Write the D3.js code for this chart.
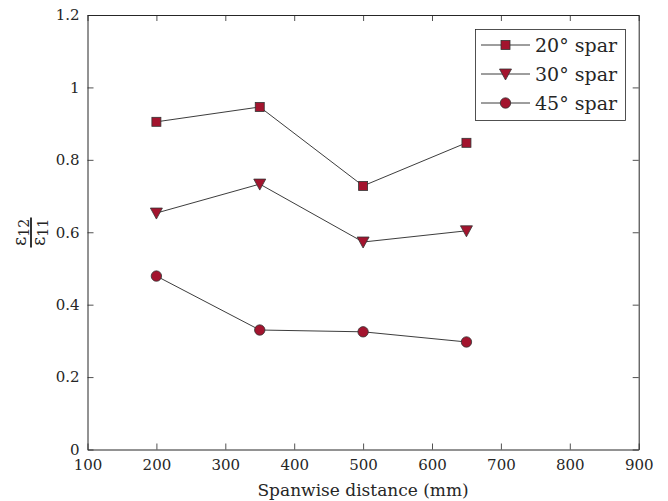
<!DOCTYPE html>
<html>
<head>
<meta charset="utf-8">
<script src="https://cdn.jsdelivr.net/npm/d3@7"></script>
<style>
  body { margin: 0; background: #fff; }
  svg text { font-family: "DejaVu Serif", "Liberation Serif", serif; }
</style>
</head>
<body>
<svg id="chart" width="668" height="501"></svg>
<script>
// data
const spanwise = [200, 350, 500, 650];
const spar20 = [0.905, 0.946, 0.728, 0.847];
const spar30 = [0.653, 0.733, 0.573, 0.604];
const spar45 = [0.479, 0.330, 0.325, 0.297];
const seriesNames = ["20\u00B0 spar", "30\u00B0 spar", "45\u00B0 spar"];
const xTicks = [100, 200, 300, 400, 500, 600, 700, 800, 900];
const yTicks = [0, 0.2, 0.4, 0.6, 0.8, 1, 1.2];

const svg = d3.select("#chart");
const plotLeft = 87.5, plotRight = 638.7, plotTop = 15, plotBottom = 449.5;
const axisColor = "#262626";
const markFill = "#a3142e";
const fontFam = "'DejaVu Serif', 'Liberation Serif', serif";

const x = d3.scaleLinear().domain([100, 900]).range([plotLeft, plotRight]);
const y = d3.scaleLinear().domain([0, 1.2]).range([plotBottom, plotTop]);

// axes, ticks inside, box on
const tickLen = 6;
const xAxis = d3.axisBottom(x).tickValues(xTicks).tickSizeInner(-tickLen).tickSizeOuter(0).tickPadding(10)
  .tickFormat(d3.format("d"));
const yAxis = d3.axisLeft(y).tickValues(yTicks).tickSizeInner(-tickLen).tickSizeOuter(0).tickPadding(8)
  .tickFormat(d => d === 0 ? "0" : d3.format("")(d));
const xTop = d3.axisTop(x).tickValues(xTicks).tickSizeInner(-tickLen).tickSizeOuter(0).tickFormat("");
const yRight = d3.axisRight(y).tickValues(yTicks).tickSizeInner(-tickLen).tickSizeOuter(0).tickFormat("");

function styleAxis(g) {
  g.attr("font-family", fontFam);
  g.selectAll("path").attr("stroke", axisColor).attr("stroke-width", 1);
  g.selectAll("line").attr("stroke", axisColor).attr("stroke-width", 0.8);
  g.selectAll("text").attr("fill", axisColor).attr("font-size", 15).attr("font-family", fontFam);
}

svg.append("g").attr("transform", `translate(0,${plotBottom})`).call(xAxis).call(styleAxis);
svg.append("g").attr("transform", `translate(${plotLeft},0)`).call(yAxis).call(styleAxis);
svg.append("g").attr("transform", `translate(0,${plotTop})`).call(xTop).call(styleAxis);
svg.append("g").attr("transform", `translate(${plotRight},0)`).call(yRight).call(styleAxis);

// x label
svg.append("text")
  .attr("x", (plotLeft + plotRight) / 2).attr("y", 496)
  .attr("text-anchor", "middle").attr("font-size", 17).attr("fill", axisColor)
  .text("Spanwise distance (mm)");

// y label: fraction eps12 / eps11, rotated
const yl = svg.append("g").attr("transform", "translate(31,232.5) rotate(-90)");
yl.append("line").attr("x1", -15).attr("x2", 15).attr("y1", 0).attr("y2", 0)
  .attr("stroke", "#000").attr("stroke-width", 1.6);
const num = yl.append("text").attr("text-anchor", "middle").attr("y", -5).attr("font-size", 18).attr("fill", axisColor);
num.append("tspan").text("\u03B5");
num.append("tspan").attr("font-size", 14).attr("dy", 3).text("12");
const den = yl.append("text").attr("text-anchor", "middle").attr("y", 14).attr("font-size", 18).attr("fill", axisColor);
den.append("tspan").text("\u03B5");
den.append("tspan").attr("font-size", 14).attr("dy", 3).text("11");

// series
const series = [
  { name: seriesNames[0], values: spar20, shape: "square" },
  { name: seriesNames[1], values: spar30, shape: "triangle" },
  { name: seriesNames[2], values: spar45, shape: "circle" }
];

const line = d3.line().x((d, i) => x(spanwise[i])).y(d => y(d));

function drawMarker(g, shape, cx, cy) {
  if (shape === "square") {
    g.append("rect").attr("x", cx - 4.5).attr("y", cy - 4.5).attr("width", 9).attr("height", 9)
      .attr("fill", markFill).attr("stroke", "#333").attr("stroke-width", 0.8);
  } else if (shape === "triangle") {
    g.append("path").attr("d", `M${cx - 6},${cy - 5} L${cx + 6},${cy - 5} L${cx},${cy + 6} Z`)
      .attr("fill", markFill).attr("stroke", "#333").attr("stroke-width", 0.8);
  } else {
    g.append("circle").attr("cx", cx).attr("cy", cy).attr("r", 5.2)
      .attr("fill", markFill).attr("stroke", "#333").attr("stroke-width", 0.8);
  }
}

series.forEach(s => {
  svg.append("path").datum(s.values).attr("d", line)
    .attr("fill", "none").attr("stroke", "#262626").attr("stroke-width", 0.9);
  const g = svg.append("g");
  s.values.forEach((v, i) => drawMarker(g, s.shape, x(spanwise[i]), y(v)));
});

// legend
const legend = svg.append("g");
legend.append("rect").attr("x", 475.5).attr("y", 29.5).attr("width", 150).attr("height", 91)
  .attr("fill", "#fff").attr("stroke", axisColor).attr("stroke-width", 0.8);
series.forEach((s, i) => {
  const ly = 45 + i * 29;
  legend.append("line").attr("x1", 481).attr("x2", 530).attr("y1", ly).attr("y2", ly)
    .attr("stroke", "#262626").attr("stroke-width", 0.9);
  drawMarker(legend, s.shape, 505.5, ly);
  legend.append("text").attr("x", 535).attr("y", ly + 7).attr("font-size", 19).attr("fill", axisColor)
    .text(s.name);
});
</script>
</body>
</html>
